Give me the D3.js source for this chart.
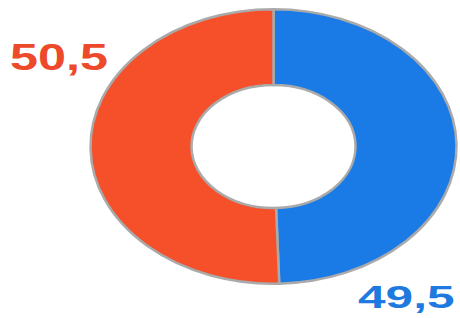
<!DOCTYPE html>
<html>
<head>
<meta charset="utf-8">
<script src="https://cdn.jsdelivr.net/npm/d3@7"></script>
<style>
  html, body { margin: 0; padding: 0; background: #fff; }
  svg { display: block; }
</style>
</head>
<body>
<div class="graph"></div>
<script>
// slices, clockwise from the top
var categories = ["B", "A"];
var values = [49.5, 50.5];
var labels = ["49,5", "50,5"];
var colors = ["#1a7be6", "#f5502a"];
var labelColors = ["#1f7ae0", "#ec4a2a"];

var width = 460, height = 318;

var svg = d3.select(".graph").append("svg")
  .attr("width", width)
  .attr("height", height);

var data = categories.map(function (c, i) {
  return { cat: c, value: values[i], label: labels[i], color: colors[i], lc: labelColors[i] };
});

var pie = d3.pie().sort(null).value(function (d) { return d.value; });
var arc = d3.arc().innerRadius(82).outerRadius(183);

// the donut is squashed vertically in the original
var g = svg.append("g")
  .attr("transform", "translate(273.5,146.5) scale(1,0.75)");

g.selectAll("path")
  .data(pie(data))
  .enter().append("path")
  .attr("d", arc)
  .attr("fill", function (d) { return d.data.color; })
  .attr("stroke", "#aaaaaa")
  .attr("stroke-width", 2.5)
  .attr("vector-effect", "non-scaling-stroke");

// labels, stretched wide like the source image
var labelPos = {
  "50,5": { x: 10, y: 70, size: 37, sx: 1.36, sy: 1 },
  "49,5": { x: 358, y: 308, size: 31, sx: 1.6, sy: 1 }
};

svg.selectAll("text.lbl")
  .data(data)
  .enter().append("text")
  .attr("class", "lbl")
  .attr("transform", function (d) {
    var p = labelPos[d.label];
    return "translate(" + p.x + "," + p.y + ") scale(" + p.sx + "," + p.sy + ")";
  })
  .attr("font-family", "'Liberation Sans', Arial, sans-serif")
  .attr("font-weight", "bold")
  .attr("font-size", function (d) { return labelPos[d.label].size; })
  .attr("fill", function (d) { return d.lc; })
  .text(function (d) { return d.label; });
</script>
</body>
</html>
